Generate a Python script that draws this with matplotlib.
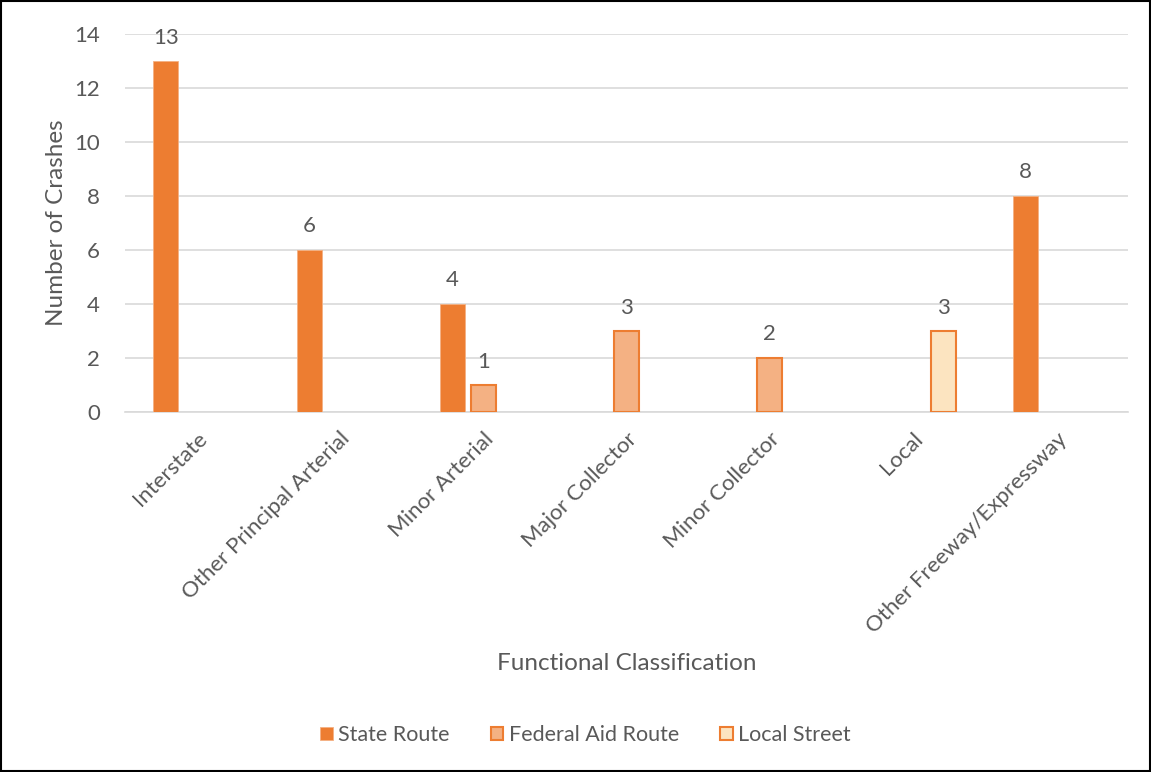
import matplotlib
matplotlib.use("Agg")
import matplotlib.pyplot as plt
from matplotlib.patches import Rectangle
import numpy as np

categories = ["Interstate", "Other Principal Arterial", "Minor Arterial",
              "Major Collector", "Minor Collector", "Local",
              "Other Freeway/Expressway"]
state_route = [13, 6, 4, 0, 0, 0, 8]
federal_aid = [0, 0, 1, 3, 2, 0, 0]
local_street = [0, 0, 0, 0, 0, 3, 0]

series = [
    ("State Route", state_route, "#ED7D31", "#F4B183", 0.6),
    ("Federal Aid Route", federal_aid, "#F4B183", "#ED7D31", 1.5),
    ("Local Street", local_street, "#FCE4C0", "#ED7D31", 1.5),
]

plt.rcParams['font.family'] = ['Lato', 'DejaVu Sans']
text_color = "#595959"

fig = plt.figure(figsize=(11.51, 7.72), dpi=100)
fig.patches.append(Rectangle((0.001, 0.001), 0.998, 0.998, transform=fig.transFigure,
                             fill=False, edgecolor="black", linewidth=1.5))
ax = fig.add_axes([125 / 1151, 360 / 772, (1128 - 125) / 1151, 378 / 772])

x = np.arange(len(categories))
offsets = [-0.215, 0.0, 0.215]
width = 0.175
for (name, vals, fc, ec, lw), off in zip(series, offsets):
    vals = np.array(vals, dtype=float)
    shown = np.where(vals > 0, vals, np.nan)
    ax.bar(x + off, shown, width, color=fc, edgecolor=ec, linewidth=lw, label=name,
           zorder=3)
    for xi, v in zip(x + off, vals):
        if v > 0:
            ax.text(xi, v + 0.5, f"{v:g}", ha="center", va="bottom", fontsize=16,
                    color=text_color)

ax.set_xlim(-0.5, len(categories) - 0.5)
ax.set_ylim(0, 14)
ax.set_yticks(range(0, 15, 2))
ax.grid(axis="y", color="#D9D9D9", linewidth=1.2, zorder=0)
for s in ["top", "right", "left"]:
    ax.spines[s].set_visible(False)
ax.spines["bottom"].set_color("#D9D9D9")
ax.spines["bottom"].set_linewidth(1.2)
ax.tick_params(axis="y", length=0, labelsize=16, colors=text_color, pad=18)
ax.tick_params(axis="x", length=0, labelsize=16, colors=text_color, pad=12)
ax.set_xticks(x)
ax.set_xticklabels(categories, rotation=45, ha="right", rotation_mode="anchor")
ax.set_xlabel("Functional Classification", fontsize=17.5, color=text_color, labelpad=12)
ax.set_ylabel("Number of Crashes", fontsize=17.5, color=text_color, labelpad=5)

leg = ax.legend(loc="center", bbox_to_anchor=(0.459, -0.855), ncol=3, frameon=False,
                fontsize=15.5, handlelength=0.6, handleheight=0.6, handletextpad=0.25,
                columnspacing=1.9)
for t in leg.get_texts():
    t.set_color(text_color)

fig.savefig("out.png", dpi=100)
